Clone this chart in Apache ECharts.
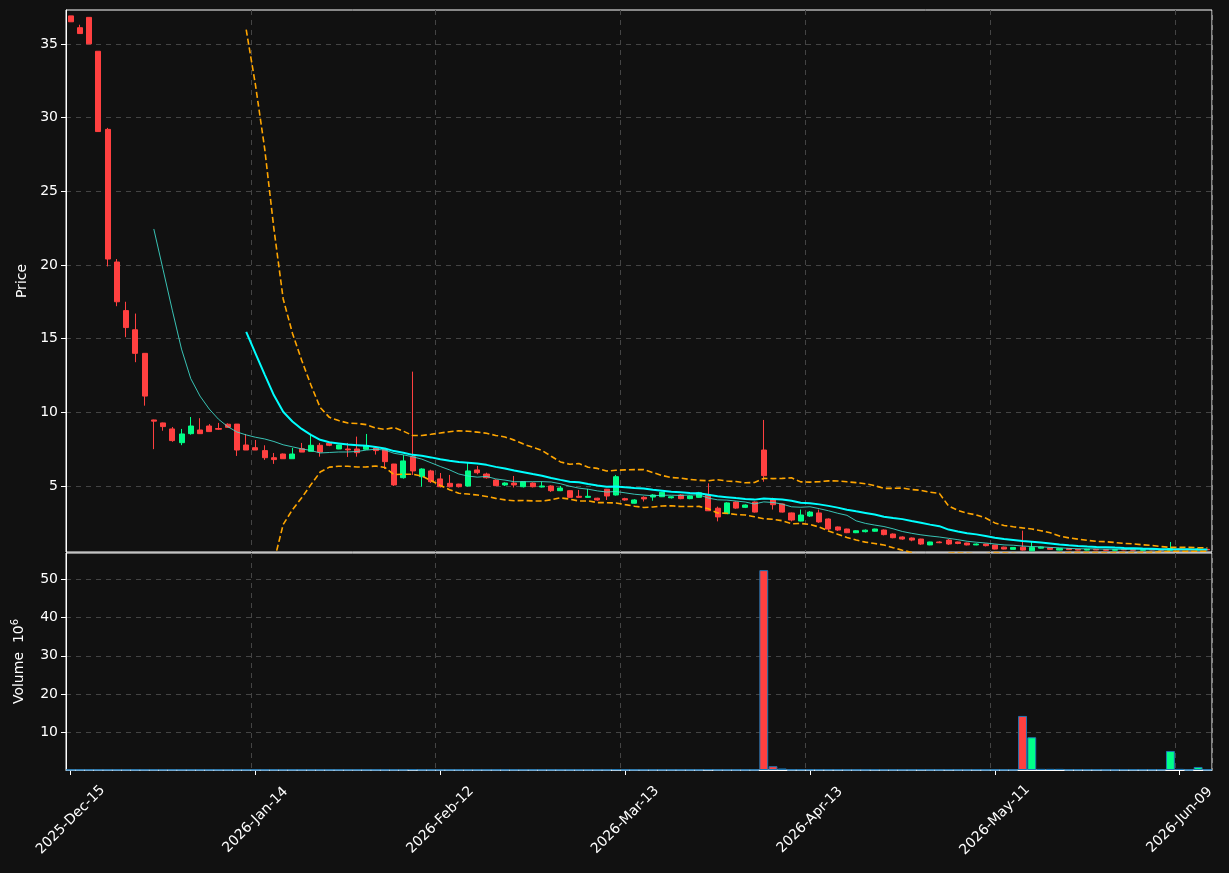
<!DOCTYPE html>
<html>
<head>
<meta charset="utf-8">
<script src="https://cdn.jsdelivr.net/npm/echarts@6/dist/echarts.min.js"></script>
<style>
  html, body { margin: 0; padding: 0; background: #111111; }
  #main { width: 1229px; height: 873px; }
</style>
</head>
<body>
<div id="main"></div>
<script>
// trading calendar: first day, count, market holidays
var startDay = '2025-12-15';
var dayCount = 124;
var holidays = ['2025-12-25', '2026-01-01', '2026-01-19', '2026-02-16', '2026-04-03', '2026-05-25'];

// OHLC
var opens  = [36.9,36.1,36.8,34.5,29.2,20.2,16.9,15.6,14.0,9.48, 9.28,8.87,7.94,8.55,8.8,9.07,8.9,9.19,9.2,7.78,
              7.6,7.4,6.92,7.17,6.85,7.53,7.35,7.76,7.9,7.51, 7.51,7.51,7.49,7.58,7.49,6.49,5.56,6.99,5.63,6.02,
              5.48,5.18,5.13,5.0,6.09,5.81,5.4,5.07,5.2,4.95, 5.2,4.93,5.0,4.68,4.68,4.3,4.23,4.17,4.78,4.39,
              4.14,3.83,4.23,4.25,4.27,4.2,4.39,4.14,4.23,4.39, 3.49,3.12,3.91,3.55,3.91,7.44,4.1,3.78,3.17,2.62,
              2.96,3.17,2.76,2.22,2.08,1.83,1.9,1.93,2.01,1.74, 1.54,1.47,1.4,1.0,1.2,1.33,1.2,1.13,1.0,1.06,
              0.99,0.85,0.7,0.85,0.6,0.78,0.8,0.65,0.75,0.7, 0.65,0.7,0.68,0.64,0.7,0.68,0.64,0.7,0.68,0.64,
              0.72,0.7,0.66,0.7];
var closes = [36.5,35.7,35.0,29.05,20.4,17.5,15.75,14.0,11.1,9.4, 9.03,8.08,8.53,9.07,8.55,8.69,8.85,8.98,7.44,7.44,
              7.44,6.92,6.79,6.85,7.17,7.3,7.76,7.3,7.76,7.78, 7.45,7.26,7.74,7.4,6.65,5.07,6.7,6.02,6.15,5.29,
              4.95,4.95,4.95,6.02,5.9,5.56,5.02,5.2,5.07,5.29, 4.95,5.0,4.68,4.86,4.23,4.23,4.3,4.05,4.32,5.63,
              4.05,4.05,4.12,4.39,4.57,4.27,4.14,4.32,4.54,3.32, 2.9,3.85,3.5,3.71,3.23,5.7,3.73,3.23,2.69,3.03,
              3.23,2.56,2.08,2.01,1.83,1.96,2.0,2.08,1.7,1.49, 1.4,1.33,1.06,1.2,1.15,1.06,1.1,1.0,1.06,0.95,
              0.72,0.72,0.83,0.65,0.83,0.85,0.7,0.75,0.68,0.65, 0.7,0.66,0.64,0.68,0.66,0.64,0.68,0.66,0.64,0.75,
              0.66,0.66,0.72,0.67];
var lows   = [36.5,35.7,35.0,29.05,19.9,17.2,15.1,13.4,10.45,7.5, 8.75,8.0,7.77,8.48,8.55,8.69,8.8,8.95,7.04,7.44,
              7.44,6.77,6.5,6.85,6.85,7.3,7.35,6.99,7.7,7.5, 6.97,6.99,7.49,7.13,6.15,5.0,5.5,5.75,4.95,5.2,
              4.9,4.9,4.9,4.95,5.79,5.5,5.0,5.0,4.9,4.9, 4.9,4.9,4.6,4.65,4.2,4.2,4.2,4.0,4.05,4.35,
              4.0,3.8,3.95,4.0,4.25,4.15,4.1,4.1,4.2,3.3, 2.6,3.1,3.45,3.5,3.2,5.29,3.4,3.2,2.6,2.6,
              2.9,2.5,2.0,1.95,1.8,1.8,1.85,1.9,1.65,1.45, 1.35,1.25,1.0,0.98,1.12,1.0,1.05,0.97,0.98,0.9,
              0.7,0.7,0.68,0.62,0.58,0.76,0.68,0.63,0.66,0.63, 0.63,0.64,0.62,0.62,0.64,0.62,0.62,0.64,0.62,0.62,
              0.64,0.64,0.64,0.65];
var highs  = [36.9,36.3,36.8,34.5,29.3,20.4,17.5,16.7,14.0,9.5, 9.3,9.0,8.87,9.68,9.6,9.2,9.28,9.25,9.2,8.53,
              8.12,7.76,7.24,7.2,7.58,7.92,8.46,7.92,7.95,7.8, 7.92,8.35,8.53,7.6,7.5,6.5,7.1,12.76,6.2,6.1,
              5.88,5.75,5.15,6.58,6.36,5.9,5.45,5.25,5.68,5.3, 5.25,5.29,5.05,5.0,4.7,4.73,4.8,4.2,4.8,5.75,
              4.2,4.1,4.3,4.45,4.6,4.3,4.45,4.35,4.6,5.18, 3.6,3.9,3.95,3.75,3.95,9.48,4.2,3.8,3.2,3.4,
              3.3,3.4,2.8,2.25,2.1,2.0,2.05,2.1,2.05,1.78, 1.58,1.5,1.42,1.22,1.25,1.4,1.22,1.15,1.1,1.08,
              1.0,0.88,0.86,1.97,1.2,0.88,0.82,0.78,0.77,0.72, 0.72,0.72,0.7,0.7,0.72,0.7,0.7,0.72,0.7,1.2,
              0.74,0.72,0.8,0.72];
// volume in millions
var volumes = [0.05,0.05,0.05,0.05,0.05,0.05,0.05,0.05,0.05,0.05, 0.05,0.05,0.05,0.05,0.05,0.05,0.05,0.05,0.05,0.05,
               0.05,0.05,0.05,0.05,0.05,0.05,0.05,0.05,0.05,0.05, 0.05,0.05,0.05,0.05,0.05,0.05,0.05,0.15,0.05,0.05,
               0.05,0.05,0.05,0.05,0.05,0.05,0.05,0.05,0.05,0.05, 0.05,0.05,0.05,0.05,0.05,0.05,0.05,0.05,0.05,0.15,
               0.05,0.05,0.05,0.05,0.05,0.05,0.05,0.05,0.05,0.15, 0.05,0.05,0.05,0.05,0.05,52.5,1.0,0.4,0.1,0.1,
               0.1,0.1,0.1,0.1,0.05,0.05,0.05,0.1,0.05,0.05, 0.05,0.05,0.1,0.05,0.05,0.1,0.05,0.05,0.1,0.05,
               0.05,0.05,0.05,14.2,8.6,0.3,0.3,0.3,0.1,0.1, 0.1,0.1,0.05,0.05,0.1,0.1,0.1,0.1,0.1,5.0,
               0.3,0.05,0.8,0.1];

var upColor = '#00ff88', downColor = '#ff4040';
var monthNames = ['Jan','Feb','Mar','Apr','May','Jun','Jul','Aug','Sep','Oct','Nov','Dec'];

function pad(n){ return n < 10 ? '0' + n : '' + n; }
function isoDay(d){ return d.getUTCFullYear() + '-' + pad(d.getUTCMonth()+1) + '-' + pad(d.getUTCDate()); }

// build the trading days
var dates = [];
var d = new Date(startDay + 'T00:00:00Z');
while (dates.length < dayCount) {
  var wd = d.getUTCDay();
  if (wd !== 0 && wd !== 6 && holidays.indexOf(isoDay(d)) < 0) {
    dates.push(d.getUTCFullYear() + '-' + monthNames[d.getUTCMonth()] + '-' + pad(d.getUTCDate()));
  }
  d.setUTCDate(d.getUTCDate() + 1);
}

// moving averages and bollinger bands from the closes
function movingAvg(n){
  return closes.map(function(v, i){
    if (i < n - 1) return '-';
    var s = 0;
    for (var k = i - n + 1; k <= i; k++) s += closes[k];
    return +(s / n).toFixed(4);
  });
}
var ma10 = movingAvg(10);
var ma20 = movingAvg(20);
var bbUp = [], bbLow = [];
closes.forEach(function(v, i){
  if (i < 19) { bbUp.push('-'); bbLow.push('-'); return; }
  var m = ma20[i], s = 0;
  for (var k = i - 19; k <= i; k++) s += (closes[k] - m) * (closes[k] - m);
  var sd = Math.sqrt(s / 19);
  bbUp.push(+(m + 2 * sd).toFixed(4));
  bbLow.push(+(m - 2 * sd).toFixed(4));
});

var candleData = opens.map(function(o, i){ return [o, closes[i], lows[i], highs[i]]; });
var volData = volumes.map(function(v, i){
  return { value: v, itemStyle: { color: closes[i] >= opens[i] ? upColor : downColor } };
});

var textStyle = { color: '#ffffff', fontSize: 14, fontFamily: 'DejaVu Sans' };
var gridLine = { show: true, lineStyle: { color: '#444444', type: [5, 5], width: 1 } };

var option = {
  backgroundColor: '#111111',
  animation: false,
  grid: [
    { left: 66, right: 17, top: 10, height: 542, show: true, borderColor: '#ffffff', borderWidth: 1,
      backgroundColor: 'transparent', outerBoundsMode: 'none', containLabel: false },
    { left: 66, right: 17, top: 553, height: 217, show: true, borderColor: '#ffffff', borderWidth: 1,
      backgroundColor: 'transparent', outerBoundsMode: 'none', containLabel: false }
  ],
  xAxis: [
    { type: 'category', gridIndex: 0, data: dates, boundaryGap: true,
      axisLine: { show: false }, axisTick: { show: false }, axisLabel: { show: false },
      splitLine: { show: true, interval: 19, lineStyle: gridLine.lineStyle } },
    { type: 'category', gridIndex: 1, data: dates, boundaryGap: true,
      axisLine: { show: true, lineStyle: { color: '#ffffff' } },
      axisTick: { show: true, interval: 19, alignWithLabel: true, length: 5, lineStyle: { color: '#ffffff' } },
      axisLabel: Object.assign({ interval: 19, rotate: 45, margin: 50, align: 'center', verticalAlign: 'middle', hideOverlap: false }, textStyle),
      splitLine: { show: true, interval: 19, lineStyle: gridLine.lineStyle } }
  ],
  yAxis: [
    { type: 'value', gridIndex: 0, min: 0.52, max: 37.3,
      name: 'Price', nameLocation: 'middle', nameGap: 36, nameTextStyle: textStyle,
      axisLine: { show: true, lineStyle: { color: '#ffffff' } },
      axisTick: { show: true, length: 5, lineStyle: { color: '#ffffff' }, customValues: [5, 10, 15, 20, 25, 30, 35] },
      axisLabel: Object.assign({ customValues: [5, 10, 15, 20, 25, 30, 35] }, textStyle),
      splitLine: gridLine },
    { type: 'value', gridIndex: 1, min: 0, max: 57,
      name: '{a|Volume  10}{s|6}', nameLocation: 'middle', nameGap: 38,
      nameTextStyle: { rich: { a: { color: '#ffffff', fontSize: 14, fontFamily: 'DejaVu Sans' },
                               s: { color: '#ffffff', fontSize: 10, fontFamily: 'DejaVu Sans', verticalAlign: 'top', padding: [0, 0, 8, 0] } } },
      axisLine: { show: true, lineStyle: { color: '#ffffff' } },
      axisTick: { show: true, length: 5, lineStyle: { color: '#ffffff' }, customValues: [10, 20, 30, 40, 50] },
      axisLabel: Object.assign({ customValues: [10, 20, 30, 40, 50] }, textStyle),
      splitLine: gridLine }
  ],
  series: [
    { name: 'price', type: 'candlestick', xAxisIndex: 0, yAxisIndex: 0, data: candleData, barWidth: '60%',
      itemStyle: { color: upColor, color0: downColor, borderColor: upColor, borderColor0: downColor, borderWidth: 1 } },
    { name: 'ma10', type: 'line', xAxisIndex: 0, yAxisIndex: 0, data: ma10, symbol: 'none', smooth: false,
      lineStyle: { color: '#40e0d0', width: 1, opacity: 0.85 }, z: 3 },
    { name: 'ma20', type: 'line', xAxisIndex: 0, yAxisIndex: 0, data: ma20, symbol: 'none',
      lineStyle: { color: '#00ffff', width: 2 }, z: 3 },
    { name: 'bbUp', type: 'line', xAxisIndex: 0, yAxisIndex: 0, data: bbUp, symbol: 'none', clip: true,
      lineStyle: { color: '#ffa500', width: 1.6, type: [6, 3] }, z: 3 },
    { name: 'bbLow', type: 'line', xAxisIndex: 0, yAxisIndex: 0, data: bbLow, symbol: 'none', clip: true,
      lineStyle: { color: '#ffa500', width: 1.6, type: [6, 3] }, z: 3 },
    { name: 'volume', type: 'bar', xAxisIndex: 1, yAxisIndex: 1, data: volData, barWidth: '96%',
      itemStyle: { borderColor: '#1f77b4', borderWidth: 1 } }
  ]
};

var myChart = echarts.init(document.getElementById('main'));
myChart.setOption(option);
</script>
</body>
</html>
